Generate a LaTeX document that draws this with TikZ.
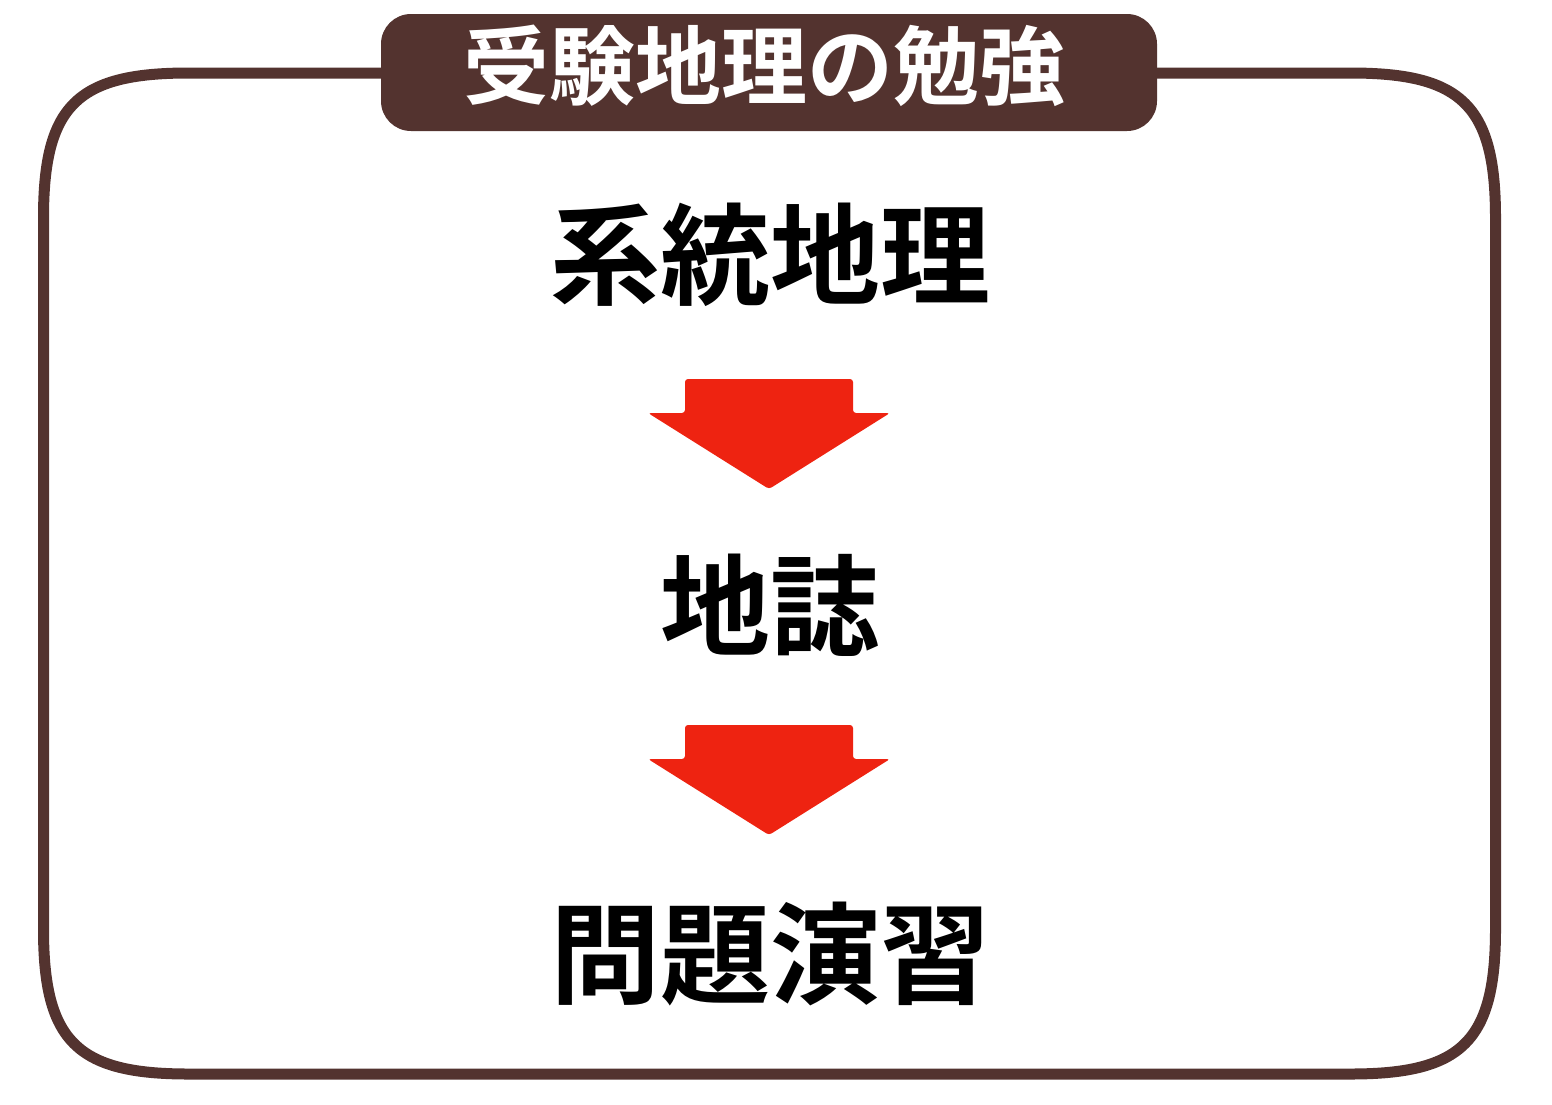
\documentclass[tikz,border=0pt]{standalone}
\usepackage{fontspec}
\newfontfamily\cjk{Noto Sans CJK JP}[BoldFont={Noto Sans CJK JP Bold}]
\definecolor{framebrown}{RGB}{83,51,47}
\definecolor{arrowred}{RGB}{238,35,17}
\tikzset{every picture/.style={line width=0.75pt}}
\tikzset{steptext/.style={anchor=center, inner sep=0.75pt, font=\cjk\bfseries\fontsize{110}{120}\selectfont}}

\begin{document}
\begin{tikzpicture}[x=1pt,y=1pt,yscale=-1,xscale=1]
\useasboundingbox (0,0) rectangle (1552,1104);

%Shape: Rounded Rect [id:frame]
\draw [draw=framebrown, line width=11] (188.5,73) -- (1350.5,73) .. controls (1462.5,73) and (1495.5,106) .. (1495.5,218) -- (1495.5,929) .. controls (1495.5,1041) and (1462.5,1074) .. (1350.5,1074) -- (188.5,1074) .. controls (76.5,1074) and (43.5,1041) .. (43.5,929) -- (43.5,218) .. controls (43.5,106) and (76.5,73) .. (188.5,73) -- cycle ;
%Shape: Rounded Rect [id:tab]
\draw [fill=framebrown, draw=none, rounded corners=30] (381,14) rectangle (1157,131);

%Shape: Down Arrow [id:arrow1]
\fill [arrowred, rounded corners=3] (685,379) -- (853,379) -- (853,413) -- (890,413) -- (769,489) -- (648,413) -- (685,413) -- cycle;
%Shape: Down Arrow [id:arrow2]
\fill [arrowred, rounded corners=3] (685,725) -- (853,725) -- (853,759) -- (890,759) -- (769,835) -- (648,759) -- (685,759) -- cycle;

% Text Node
\node [anchor=center, inner sep=0.75pt, text=white, font=\cjk\bfseries\fontsize{86}{90}\selectfont] (title) at (764,66) {受験地理の勉強};
% Text Node
\node [steptext] (keitou) at (770,255) {系統地理};
% Text Node
\node [steptext] (chishi) at (770,605) {地誌};
% Text Node
\node [steptext] (mondai) at (770,954) {問題演習};

\end{tikzpicture}
\end{document}
